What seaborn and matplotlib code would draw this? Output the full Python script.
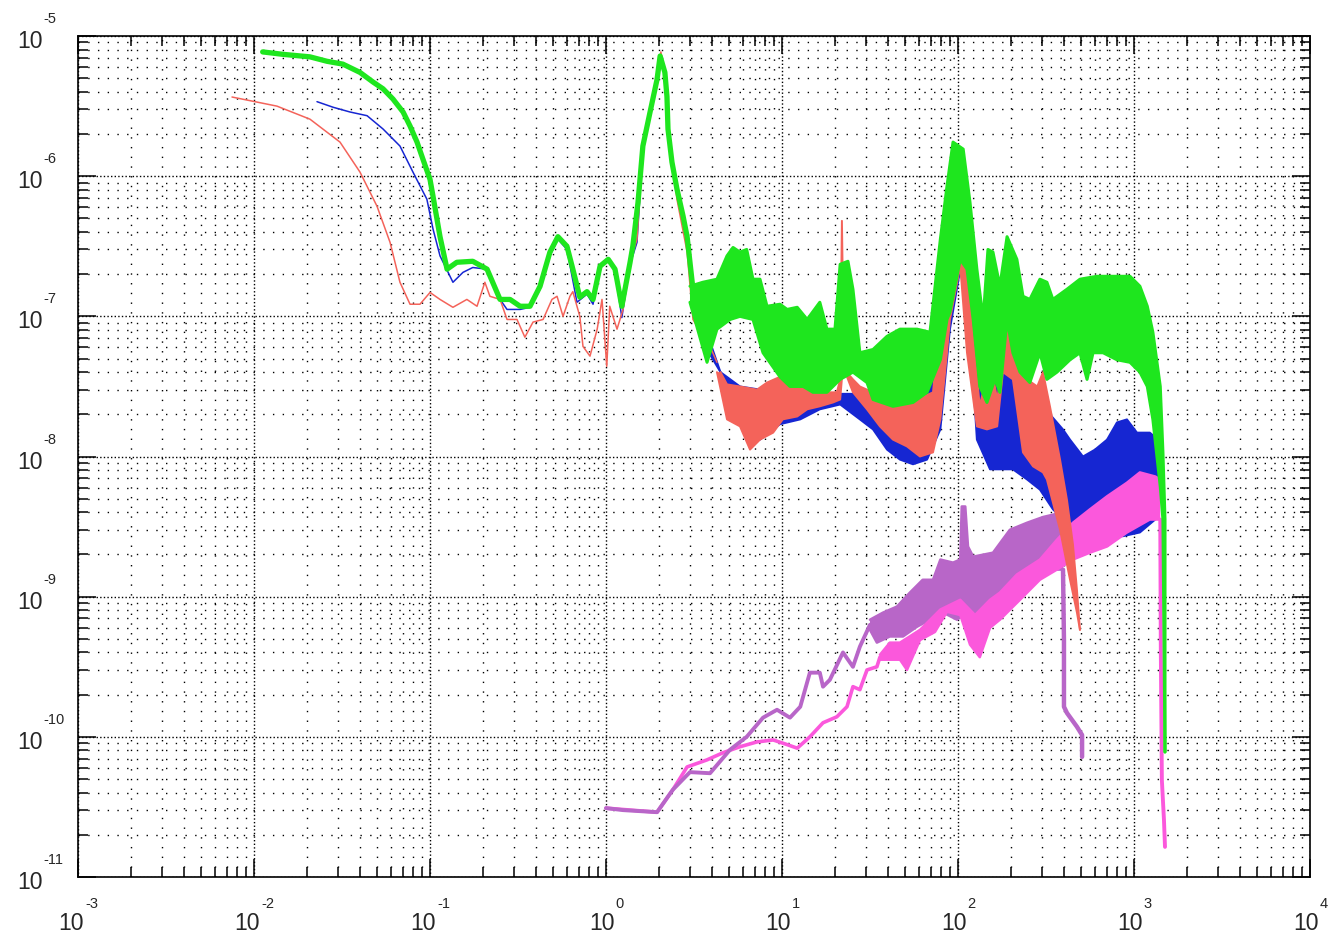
import numpy as np
import matplotlib
matplotlib.use("Agg")
import matplotlib.pyplot as plt
from matplotlib.ticker import LogLocator, NullFormatter
import seaborn as sns

# ---- values (frequency, level) ----
# green: smooth part, then upper / lower edges of the noisy band
green_f = [0.0112, 0.0146, 0.0208, 0.026, 0.032, 0.040, 0.0474, 0.0541, 0.0616, 0.0703,
           0.077, 0.0844, 0.0912, 0.1, 0.104, 0.114, 0.125,
           0.142, 0.175, 0.211, 0.25, 0.285, 0.325, 0.37, 0.422, 0.48, 0.533,
           0.60, 0.648, 0.71, 0.78, 0.844, 0.925, 1.03, 1.125, 1.23, 1.37,
           1.42, 1.52, 1.62, 1.78, 1.95, 2.03, 2.16, 2.22, 2.25, 2.37,
           2.53, 2.74, 2.89, 3.12]
green_y = [7.7e-6, 7.4e-6, 7.1e-6, 6.6e-6, 6.3e-6, 5.5e-6, 4.7e-6, 4.2e-6, 3.55e-6, 2.87e-6,
           2.28e-6, 1.75e-6, 1.32e-6, 9.5e-7, 7.2e-7, 3.7e-7, 2.17e-7,
           2.43e-7, 2.47e-7, 2.17e-7, 1.32e-7, 1.32e-7, 1.18e-7, 1.18e-7, 1.64e-7, 2.87e-7, 3.7e-7,
           3.16e-7, 2.17e-7, 1.37e-7, 1.5e-7, 1.32e-7, 2.28e-7, 2.55e-7, 2.17e-7, 1.18e-7, 2.43e-7,
           3.16e-7, 6.5e-7, 1.64e-6, 2.87e-6, 4.9e-6, 7.2e-6, 5.5e-6, 3.7e-6, 2.17e-6, 1.26e-6,
           8.1e-7, 5.2e-7, 3.7e-7, 1.56e-7]
green_hi_f = [3.0, 3.55, 4.27, 4.87, 5.27, 5.77, 6.3, 6.84, 7.5, 8.22, 9.74, 10.7, 12.2, 13.9,
              16.4, 18.0, 20.0, 21.4, 23.7, 25.3, 27.7, 32.9, 39.5, 46.8, 58.5, 69.3, 79.4, 86.6,
              93.7, 107, 117, 128, 139, 148, 158, 173, 190, 216, 234, 256, 292, 320, 346, 416,
              493, 616, 800, 949, 1080, 1190, 1280, 1410, 1460, 1500, 1500]
green_hi = [1.64e-7, 1.75e-7, 1.84e-7, 2.7e-7, 3.1e-7, 2.87e-7, 3.0e-7, 1.84e-7, 1.84e-7, 1.18e-7,
            1.22e-7, 1.12e-7, 1.16e-7, 9.5e-8, 1.26e-7, 8.1e-8, 8.1e-8, 2.35e-7, 2.47e-7, 1.56e-7,
            5.5e-8, 5.8e-8, 7.2e-8, 8.1e-8, 8.1e-8, 7.7e-8, 3.55e-7, 8.5e-7, 1.75e-6, 1.56e-6,
            6.5e-7, 2.17e-7, 9.5e-8, 3.0e-7, 2.87e-7, 1.64e-7, 3.7e-7, 2.55e-7, 1.39e-7, 1.32e-7,
            1.84e-7, 1.75e-7, 1.32e-7, 1.56e-7, 1.84e-7, 1.93e-7, 1.93e-7, 1.93e-7, 1.64e-7, 1.18e-7,
            7.7e-8, 3.16e-8, 1.07e-8, 3.55e-9, 7.8e-11]
green_lo_f = [3.0, 3.75, 4.27, 5.07, 5.77, 6.84, 7.8, 9.74, 11.1, 13.2, 15.0, 18.0, 21.4, 25.3,
              30.4, 32.9, 42.7, 55.5, 66.7, 79.4, 86.6, 90, 103, 112.5, 122, 133, 146, 162, 173,
              190, 205, 225, 256, 292, 320, 365, 433, 493, 541, 585, 667, 800, 949, 1080, 1190,
              1280, 1410, 1460, 1500]
green_lo = [1.26e-7, 4.7e-8, 8.1e-8, 9.5e-8, 1.0e-7, 9.5e-8, 5.5e-8, 3.7e-8, 3.16e-8, 3.16e-8,
            2.87e-8, 2.87e-8, 3.55e-8, 4.0e-8, 3.37e-8, 2.55e-8, 2.28e-8, 2.43e-8, 2.87e-8, 4.9e-8,
            9.5e-8, 1.07e-7, 2.55e-7, 2.17e-7, 9.5e-8, 3.16e-8, 2.43e-8, 3.55e-8, 2.87e-8, 9.5e-8,
            5.5e-8, 4.0e-8, 3.37e-8, 5.5e-8, 3.55e-8, 4.0e-8, 4.9e-8, 5.5e-8, 3.55e-8, 5.5e-8,
            5.5e-8, 4.9e-8, 4.7e-8, 4.0e-8, 3.16e-8, 1.84e-8, 6.1e-9, 3.55e-9, 7.8e-11]

# red
red_f = [0.0075, 0.0135, 0.0208, 0.0308, 0.040, 0.050, 0.0593, 0.0675, 0.077, 0.0877,
         0.1, 0.114, 0.135, 0.162, 0.185, 0.205, 0.219, 0.25, 0.274, 0.312,
         0.346, 0.385, 0.439, 0.493, 0.527, 0.57, 0.624, 0.648, 0.71, 0.74,
         0.811, 0.891, 0.949, 1.01, 1.05, 1.155, 1.25, 1.37, 1.5, 1.62,
         1.78, 1.95, 2.05, 2.16, 2.25, 2.53, 2.89, 3.12, 3.55, 3.9, 4.27]
red_y = [3.67e-6, 3.16e-6, 2.55e-6, 1.75e-6, 1.07e-6, 6.1e-7, 3.37e-7, 1.75e-7, 1.22e-7, 1.22e-7,
         1.48e-7, 1.32e-7, 1.16e-7, 1.32e-7, 1.18e-7, 1.75e-7, 1.39e-7, 1.32e-7, 9.5e-8, 9.5e-8,
         7.1e-8, 9.1e-8, 9.5e-8, 1.32e-7, 1.39e-7, 1.0e-7, 1.39e-7, 1.5e-7, 1.0e-7, 6.1e-8,
         5.2e-8, 8.1e-8, 1.32e-7, 4.4e-8, 1.18e-7, 8.1e-8, 1.12e-7, 2.43e-7, 3.55e-7, 1.56e-6,
         2.77e-6, 4.9e-6, 7.7e-6, 5.35e-6, 2.17e-6, 6.85e-7, 2.87e-7, 9.5e-8, 7.2e-8, 6.1e-8, 4.7e-8]
red_hi_f = [4.47, 4.87, 5.77, 7.21, 8.22, 9.74, 11.55, 13.9, 16.4, 18.0, 20.5, 21.4, 21.9, 22.5,
            25.3, 27.7, 32.9, 39.5, 46.8, 58.5, 72.1, 82.2, 92.5, 103, 107, 117, 133, 152, 167,
            190, 197, 216, 247, 282, 304, 333, 380, 416, 450, 474, 493]
red_hi = [4.0e-8, 3.27e-8, 3.16e-8, 3.0e-8, 3.37e-8, 3.7e-8, 3.7e-8, 3.55e-8, 3.16e-8, 2.87e-8,
          2.87e-8, 3.55e-8, 4.8e-7, 4.2e-8, 3.55e-8, 3.16e-8, 2.87e-8, 2.28e-8, 2.28e-8, 2.55e-8,
          2.87e-8, 1.64e-7, 2.87e-7, 4.0e-7, 3.16e-7, 1.18e-7, 2.28e-8, 4.9e-8, 2.55e-8, 7.7e-8,
          9.1e-8, 5.5e-8, 3.55e-8, 3.16e-8, 4.0e-8, 2.28e-8, 9.5e-9, 4.9e-9, 2.35e-9, 1.12e-9, 5.8e-10]
red_lo_f = [4.27, 4.87, 5.77, 6.58, 7.5, 8.91, 10.1, 12.2, 13.9, 16.4, 19.5, 21.4, 22.2, 25.3,
            30.4, 36, 42.7, 51.3, 60.8, 72.1, 79.4, 86.6, 90, 103, 112.5, 128, 146, 167, 180,
            205, 234, 267, 304, 320, 380, 433, 474, 493]
red_lo = [4.0e-8, 1.84e-8, 1.64e-8, 1.12e-8, 1.32e-8, 1.48e-8, 1.84e-8, 1.93e-8, 2.17e-8, 2.28e-8,
          2.43e-8, 2.55e-8, 4.4e-8, 2.87e-8, 2.17e-8, 1.64e-8, 1.32e-8, 1.18e-8, 1.0e-8, 1.07e-8,
          1.84e-8, 5.5e-8, 9.5e-8, 2.28e-7, 5.5e-8, 1.64e-8, 1.56e-8, 1.64e-8, 4.0e-8, 3.55e-8,
          1.07e-8, 8.5e-9, 7.7e-9, 6.85e-9, 3.0e-9, 1.32e-9, 7.7e-10, 5.8e-10]

# blue
blue_f = [0.0228, 0.0282, 0.0351, 0.0439, 0.0541, 0.0675, 0.080, 0.096, 0.104, 0.114,
          0.135, 0.154, 0.175, 0.211, 0.25, 0.274, 0.296, 0.325, 0.37, 0.422,
          0.48, 0.533, 0.60, 0.684, 0.78, 0.844, 0.925, 1.01, 1.125, 1.23,
          1.37, 1.5, 1.62, 1.78, 1.95, 2.05, 2.16, 2.25, 2.53, 2.89, 3.12, 3.55]
blue_y = [3.4e-6, 3.1e-6, 2.87e-6, 2.7e-6, 2.17e-6, 1.64e-6, 1.07e-6, 6.85e-7, 4.2e-7, 2.7e-7,
          1.75e-7, 2.06e-7, 2.23e-7, 2.17e-7, 1.32e-7, 1.12e-7, 1.12e-7, 1.12e-7, 1.16e-7, 1.56e-7,
          2.7e-7, 3.55e-7, 3.0e-7, 1.26e-7, 1.44e-7, 1.22e-7, 2.17e-7, 2.55e-7, 2.1e-7, 9.8e-8,
          2.35e-7, 3.37e-7, 1.56e-6, 2.7e-6, 4.7e-6, 6.85e-6, 5.1e-6, 2.06e-6, 7.4e-7, 3.55e-7,
          1.48e-7, 1.56e-7]
blue_hi_f = [3.55, 4.0, 4.47, 5.77, 7.5, 9.74, 12.7, 16.4, 21.4, 27.7, 36, 46.8,
             60.8, 79.4, 96, 110, 125, 152, 173, 205, 240, 292, 333, 395, 433, 513, 600, 703,
             800, 912, 1040, 1230, 1370, 1410]
blue_hi = [1.56e-7, 6.0e-8, 4.0e-8, 3.16e-8, 3.0e-8, 3.0e-8, 2.9e-8, 2.8e-8, 2.8e-8, 2.8e-8,
           2.5e-8, 2.2e-8, 2.4e-8, 5.0e-8, 6.85e-7, 6.85e-7, 1.0e-7,
           5.0e-8, 3.5e-8, 5.5e-8, 3.0e-8, 2.5e-8, 2.0e-8, 1.56e-8, 1.32e-8, 1.0e-8, 1.12e-8,
           1.32e-8, 1.75e-8, 1.84e-8, 1.48e-8, 1.48e-8, 1.32e-8, 6.85e-9]
blue_lo_f = [3.55, 3.75, 4.47, 5.77, 7.5, 9.74, 12.7, 16.4, 21.4, 27.7, 32.9, 39.5, 46.8, 55.5,
             66.7, 79.4, 90, 103, 117, 128, 152, 173, 205, 247, 292, 346, 395, 450, 585, 866,
             1080, 1320, 1410]
blue_lo = [1.26e-7, 5.8e-8, 4.0e-8, 1.7e-8, 1.32e-8, 1.7e-8, 1.84e-8, 2.17e-8, 2.35e-8, 1.84e-8,
           1.56e-8, 1.12e-8, 9.5e-9, 8.8e-9, 9.5e-9, 1.56e-8, 8.1e-8, 2.17e-7, 8.1e-8, 1.32e-8,
           8.1e-9, 8.1e-9, 8.1e-9, 6.85e-9, 5.8e-9, 4.2e-9, 3.55e-9, 3.27e-9, 2.7e-9, 2.7e-9,
           2.87e-9, 3.55e-9, 6.85e-9]

# pink
pink_f = [1.0, 1.95, 2.4, 2.89, 3.75, 4.62, 5.77, 7.21, 8.91, 10.7,
          12.2, 14.4, 17.1, 20.5, 23.4, 25.3, 27.7, 30.4, 34.6, 36]
pink_y = [3.1e-11, 2.9e-11, 4.2e-11, 6.1e-11, 6.85e-11, 7.7e-11, 8.5e-11, 9.2e-11, 9.5e-11, 8.8e-11,
          8.3e-11, 1.0e-10, 1.26e-10, 1.39e-10, 1.64e-10, 2.28e-10, 2.17e-10, 3.0e-10, 3.16e-10, 3.7e-10]
pink_hi_f = [36, 41, 46.8, 60.8, 79.4, 103, 125, 152, 173, 216, 292, 365, 450, 562, 703, 912,
             1080, 1320, 1410]
pink_hi = [3.85e-10, 4.7e-10, 4.7e-10, 5.8e-10, 8.1e-10, 9.5e-10, 7.4e-10, 9.5e-10, 1.07e-9, 1.44e-9,
           1.84e-9, 2.55e-9, 3.37e-9, 4.2e-9, 5.2e-9, 6.5e-9, 7.7e-9, 7.2e-9, 6.85e-9]
pink_lo_f = [36, 46.8, 51.3, 60.8, 74, 86.6, 103, 117, 133, 152, 173, 225, 292, 365, 450, 562,
             703, 912, 1230, 1410]
pink_lo = [3.55e-10, 3.55e-10, 3.0e-10, 4.9e-10, 5.6e-10, 7.8e-10, 7.4e-10, 4.55e-10, 3.7e-10, 6.0e-10,
           6.85e-10, 9.5e-10, 1.32e-9, 1.56e-9, 1.84e-9, 2.06e-9, 2.28e-9, 2.87e-9, 3.55e-9, 3.55e-9]
pink_tail_f = [1410, 1420, 1440, 1480, 1500]
pink_tail_y = [3.55e-9, 4.2e-10, 4.9e-11, 2.55e-11, 1.64e-11]

# purple
purple_f = [1.0, 1.25, 1.95, 2.4, 3.0, 3.9, 5.07, 6.3, 7.8, 9.37,
            11.1, 12.7, 14.4, 16.4, 17.1, 18.7, 22.2, 25.3, 27.7, 31.6]
purple_y = [3.1e-11, 3.0e-11, 2.9e-11, 4.2e-11, 5.6e-11, 5.5e-11, 8.1e-11, 1.0e-10, 1.37e-10, 1.56e-10,
            1.37e-10, 1.64e-10, 2.87e-10, 2.87e-10, 2.28e-10, 2.55e-10, 4.0e-10, 3.16e-10, 4.4e-10, 6.3e-10]
purple_hi_f = [31.6, 37.5, 45, 53.3, 63, 72.1, 79.4, 93.7, 103, 105, 110, 114, 122, 158, 197, 247, 304, 395]
purple_hi = [6.85e-10, 7.7e-10, 8.5e-10, 1.07e-9, 1.32e-9, 1.32e-9, 1.84e-9, 1.75e-9, 1.84e-9, 4.4e-9,
             4.4e-9, 2.28e-9, 1.93e-9, 2.06e-9, 3.0e-9, 3.37e-9, 3.7e-9, 4.0e-9]
purple_lo_f = [31.6, 34.6, 41, 48.7, 58.5, 69.3, 82.2, 98.7, 112.5, 139, 173, 247, 320, 395]
purple_lo = [5.8e-10, 4.7e-10, 5.2e-10, 5.2e-10, 6.1e-10, 6.85e-10, 7.7e-10, 6.85e-10, 7.7e-10, 7.7e-10,
             1.12e-9, 1.32e-9, 1.56e-9, 1.56e-9]
purple_tail_f = [395, 400, 400, 416, 474, 507, 507]
purple_tail_y = [1.56e-9, 4.9e-10, 1.64e-10, 1.48e-10, 1.18e-10, 1.03e-10, 7.2e-11]

x_exps = [-3, -2, -1, 0, 1, 2, 3, 4]
y_exps = [-11, -10, -9, -8, -7, -6, -5]

GREEN = "#1ee61e"
RED = "#f4635a"
BLUE = "#1626d2"
PINK = "#fb58dc"
PURPLE = "#b866c8"

sns.set_style("white")
plt.rcParams["font.family"] = ["Liberation Sans", "DejaVu Sans"]

fig = plt.figure(figsize=(13.33, 9.37), dpi=100)
ax = fig.add_axes([78 / 1333, 1 - 878 / 937, 1232 / 1333, 841 / 937])
ax.set_xscale("log")
ax.set_yscale("log")


def line(f, y, color, lw, z):
    sns.lineplot(x=f, y=y, ax=ax, color=color, lw=lw, sort=False, estimator=None, zorder=z)


def band(hi_f, hi, lo_f, lo, color, lw, z):
    hi_f, hi, lo_f, lo = map(np.asarray, (hi_f, hi, lo_f, lo))
    ax.fill(np.concatenate([hi_f, lo_f[::-1]]), np.concatenate([hi, lo[::-1]]),
            color=color, lw=0, zorder=z)
    line(hi_f, hi, color, lw, z)
    line(lo_f, lo, color, lw, z)


# pink low part sits under the purple trace
line(pink_f, pink_y, PINK, 2.6, 1.95)
# purple
line(purple_f, purple_y, PURPLE, 2.8, 2.0)
band(purple_hi_f, purple_hi, purple_lo_f, purple_lo, PURPLE, 1.8, 2.0)
line(purple_tail_f, purple_tail_y, PURPLE, 3.2, 2.0)
# blue
line(blue_f, blue_y, BLUE, 1.1, 2.1)
band(blue_hi_f, blue_hi, blue_lo_f, blue_lo, BLUE, 1.4, 2.1)
# pink band
band(pink_hi_f, pink_hi, pink_lo_f, pink_lo, PINK, 1.8, 2.2)
line(pink_tail_f, pink_tail_y, PINK, 2.8, 2.2)
# red
line(red_f, red_y, RED, 1.1, 2.3)
band(red_hi_f, red_hi, red_lo_f, red_lo, RED, 1.4, 2.3)
# green
line(green_f, green_y, GREEN, 3.8, 2.4)
band(green_hi_f, green_hi, green_lo_f, green_lo, GREEN, 2.2, 2.4)

ax.set_xlim(1e-3, 1e4)
ax.set_ylim(1e-11, 1e-5)
ax.set_xlabel("")
ax.set_ylabel("")

for axis in (ax.xaxis, ax.yaxis):
    axis.set_major_locator(LogLocator(base=10, numticks=20))
    axis.set_minor_locator(LogLocator(base=10, subs=np.arange(2, 10), numticks=20))
    axis.set_major_formatter(NullFormatter())
    axis.set_minor_formatter(NullFormatter())

ax.grid(True, which="major", color="k", linestyle=(0, (1, 1.6)), linewidth=1.0)
ax.grid(True, which="minor", color="k", linestyle=(0, (1, 6)), linewidth=1.0)
ax.tick_params(which="both", direction="in", top=True, right=True, bottom=True, left=True,
               color="k", width=1.1)
ax.tick_params(which="major", length=13)
ax.tick_params(which="minor", length=7)
for s in ax.spines.values():
    s.set_visible(True)
    s.set_color("k")
    s.set_linewidth(1.2)

PX = 0.72  # points per pixel at 100 dpi
for e in x_exps:
    sup = str(e)
    w = 9 * len(sup.lstrip("-")) + (5 if e < 0 else 0)
    right10 = 13 - w / 2
    ax.annotate("10", xy=(10.0 ** e, 0), xycoords=("data", "axes fraction"),
                xytext=(right10 * PX, -52 * PX), textcoords="offset points",
                ha="right", va="baseline", fontsize=16.5, annotation_clip=False)
    ax.annotate(sup, xy=(10.0 ** e, 0), xycoords=("data", "axes fraction"),
                xytext=((right10 + 1) * PX, -30 * PX), textcoords="offset points",
                ha="left", va="baseline", fontsize=10.5, annotation_clip=False)

for e in y_exps:
    ax.annotate("10", xy=(0, 10.0 ** e), xycoords=("axes fraction", "data"),
                xytext=(-61 * PX, -11 * PX), textcoords="offset points",
                ha="left", va="baseline", fontsize=16.5, annotation_clip=False)
    ax.annotate(str(e), xy=(0, 10.0 ** e), xycoords=("axes fraction", "data"),
                xytext=(-35 * PX, 14 * PX), textcoords="offset points",
                ha="left", va="baseline", fontsize=10.5, annotation_clip=False)

fig.savefig("out.png", dpi=100)
